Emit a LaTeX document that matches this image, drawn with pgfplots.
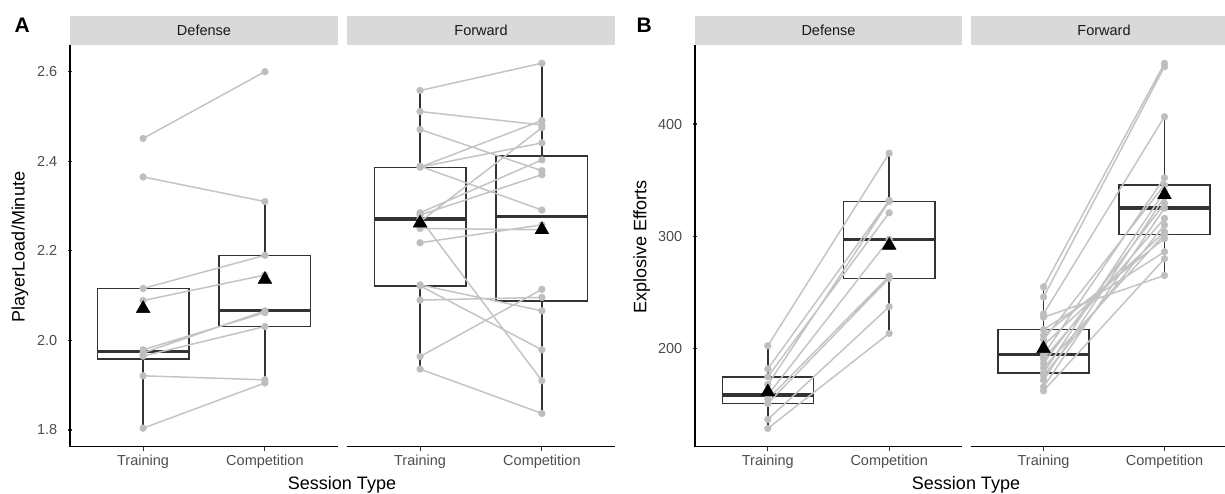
\documentclass[border=0pt]{standalone}
\usepackage{pgfplots}
\usepackage{pgfplotstable}
\pgfplotsset{compat=1.18}
\usepackage{fontspec}
\setmainfont{Liberation Sans}
\definecolor{tickgray}{HTML}{4D4D4D}
\definecolor{stripgray}{HTML}{D9D9D9}
\definecolor{boxc}{HTML}{333333}
\definecolor{ptgray}{HTML}{BEBEBE}
\definecolor{lngray}{HTML}{C4C4C4}

\pgfplotstableread{
x y
1 2.451
2 2.600
nan nan
1 2.365
2 2.310
nan nan
1 2.116
2 2.190
nan nan
1 2.089
2 2.146
nan nan
1 1.979
2 2.062
nan nan
1 1.972
2 2.066
nan nan
1 1.965
2 2.031
nan nan
1 1.921
2 1.912
nan nan
1 1.804
2 1.905
}\tADef

\pgfplotstableread{
x y
1 2.558
2 2.619
nan nan
1 2.511
2 2.481
nan nan
1 2.471
2 2.379
nan nan
1 2.387
2 2.491
nan nan
1 2.387
2 2.441
nan nan
1 2.389
2 2.291
nan nan
1 2.285
2 2.403
nan nan
1 2.280
2 2.370
nan nan
1 2.272
2 1.910
nan nan
1 2.265
2 2.475
nan nan
1 2.250
2 2.247
nan nan
1 2.218
2 2.258
nan nan
1 2.124
2 2.066
nan nan
1 2.122
2 1.979
nan nan
1 2.090
2 2.096
nan nan
1 1.964
2 2.114
nan nan
1 1.936
2 1.837
}\tAFwd

\pgfplotstableread{
x y
1 202.6
2 374
nan nan
1 182
2 332
nan nan
1 175
2 321
nan nan
1 168
2 331
nan nan
1 158.7
2 297.3
nan nan
1 155
2 264.6
nan nan
1 151.3
2 262.6
nan nan
1 137
2 237.3
nan nan
1 129
2 213.6
}\tBDef

\pgfplotstableread{
x y
1 255
2 454
nan nan
1 246
2 451
nan nan
1 231
2 406.5
nan nan
1 228
2 265.2
nan nan
1 217
2 286.3
nan nan
1 212
2 298
nan nan
1 208
2 345.7
nan nan
1 203
2 304
nan nan
1 194.6
2 352.2
nan nan
1 191
2 316
nan nan
1 187
2 329.4
nan nan
1 183
2 301.8
nan nan
1 178.6
2 340
nan nan
1 176
2 310
nan nan
1 172
2 335
nan nan
1 166
2 325.2
nan nan
1 162.5
2 280
}\tBFwd

\pgfplotsset{
  panel/.style={
    scale only axis, anchor=south west, width=268pt, height=401.7pt,
    xmin=0.4, xmax=2.6, enlargelimits=false, clip=false,
    axis x line=bottom,
    xtick={1,2}, xticklabels={Training,Competition},
    tick align=outside, major tick length=4.5pt,
    every tick/.style={line width=1.1pt, boxc},
    tick label style={font=\fontsize{14.5}{16}\selectfont, text=tickgray},
    /pgf/number format/assume math mode=true,
    scaled y ticks=false,
    unbounded coords=jump,
  },
  leftp/.style={axis y line=left, axis line style={-, line width=1.5pt, black},
    yticklabel style={xshift=-7pt}},
  rightp/.style={axis y line=none, ytick=\empty, axis line style={-, line width=1.5pt, black}},
  pA/.style={ymin=1.7627, ymax=2.6596},
  pB/.style={ymin=112.73, ymax=470.35},
  bxf/.style={draw=boxc, line width=1.6pt, fill=white, no markers, line join=miter},
  bxl/.style={draw=boxc, line width=1.6pt, no markers},
  bxm/.style={draw=boxc, line width=3.2pt, no markers},
  pair/.style={lngray, line width=1.5pt, no markers},
  pts/.style={ptgray, only marks, mark=*, mark size=3.4pt},
  mn/.style={black, only marks, mark=triangle*, mark size=8pt},
}
% box: #1 position, #2 lower whisker, #3 Q1, #4 median, #5 Q3, #6 upper whisker
\newcommand{\gbox}[6]{%
  \addplot[bxf] coordinates {(#1-0.375,#3) (#1+0.375,#3) (#1+0.375,#5) (#1-0.375,#5)} -- cycle;
  \addplot[bxl] coordinates {(#1,#2) (#1,#3) (nan,nan) (#1,#5) (#1,#6)};
  \addplot[bxm] coordinates {(#1-0.375,#4) (#1+0.375,#4)};
}

\begin{document}
\begin{tikzpicture}
\path[use as bounding box] (0pt,0pt) rectangle (1225pt,494pt);

% ---------- Panel A, Defense
\begin{axis}[panel, leftp, pA, at={(70pt,47.3pt)},
  ytick={1.8,2,2.2,2.4,2.6},
  yticklabel style={/pgf/number format/fixed, /pgf/number format/fixed zerofill, /pgf/number format/precision=1}]
\gbox{1}{1.804}{1.958}{1.975}{2.116}{2.116}
\gbox{2}{1.905}{2.031}{2.066}{2.190}{2.310}
\addplot[pair] table {\tADef};
\addplot[pts] table {\tADef};
\addplot[mn] coordinates {(1,2.071) (2,2.136)};
\end{axis}

% ---------- Panel A, Forward
\begin{axis}[panel, rightp, pA, at={(347pt,47.3pt)}]
\gbox{1}{1.936}{2.122}{2.271}{2.386}{2.558}
\gbox{2}{1.837}{2.088}{2.276}{2.412}{2.619}
\addplot[pair] table {\tAFwd};
\addplot[pts] table {\tAFwd};
\addplot[mn] coordinates {(1,2.262) (2,2.247)};
\end{axis}

% ---------- Panel B, Defense
\begin{axis}[panel, leftp, pB, at={(695pt,47.3pt)}, width=267pt,
  ytick={200,300,400}]
\gbox{1}{129}{151.3}{158.7}{175}{202.6}
\gbox{2}{213.6}{262.6}{297.3}{331}{374}
\addplot[pair] table {\tBDef};
\addplot[pts] table {\tBDef};
\addplot[mn] coordinates {(1,161.5) (2,292)};
\end{axis}

% ---------- Panel B, Forward
\begin{axis}[panel, rightp, pB, at={(971pt,47.3pt)}, width=266pt]
\gbox{1}{162.5}{178.6}{194.6}{217}{255}
\gbox{2}{265.2}{301.8}{325.2}{345.7}{406.5}
\addplot[pair] table {\tBFwd};
\addplot[pts] table {\tBFwd};
\addplot[mn] coordinates {(1,200) (2,337)};
\end{axis}

% strips
\fill[stripgray] (70pt,449pt) rectangle (338pt,478pt);
\fill[stripgray] (347pt,449pt) rectangle (615pt,478pt);
\fill[stripgray] (695pt,449pt) rectangle (962pt,478pt);
\fill[stripgray] (971pt,449pt) rectangle (1237pt,478pt);
\begin{scope}[every node/.style={font=\fontsize{14.5}{16}\selectfont, text=black!90}]
\node at (204pt,463.5pt) {Defense};
\node at (481pt,463.5pt) {Forward};
\node at (828.5pt,463.5pt) {Defense};
\node at (1104pt,463.5pt) {Forward};
\end{scope}

% titles
\begin{scope}[every node/.style={font=\fontsize{18}{20}\selectfont}]
\node[rotate=90] at (20pt,247pt) {PlayerLoad/Minute};
\node[rotate=90] at (641.7pt,247pt) {Explosive Efforts};
\node[anchor=base] at (342pt,4.5pt) {Session Type};
\node[anchor=base] at (966pt,4.5pt) {Session Type};
\end{scope}
\node[anchor=base west, font=\bfseries\fontsize{21}{22}\selectfont] at (11pt,461.3pt) {A};
\node[anchor=base west, font=\bfseries\fontsize{21}{22}\selectfont] at (633pt,461.3pt) {B};
\end{tikzpicture}
\end{document}
